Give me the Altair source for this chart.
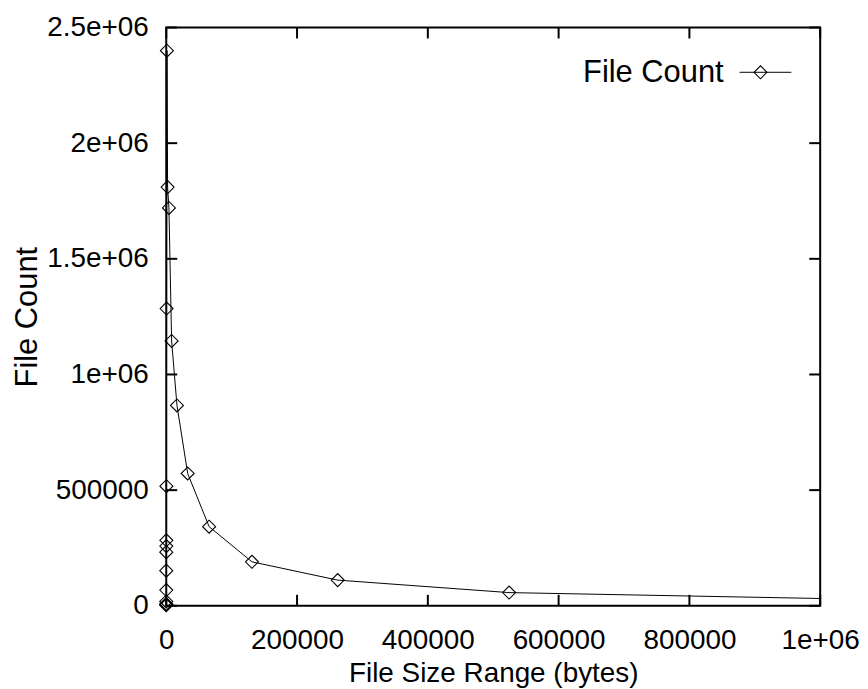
import altair as alt
import pandas as pd

# File size buckets (bytes) and file counts
sizes = [0, 1, 2, 4, 8, 16, 32, 64, 128, 256, 512, 1024, 2048, 4096,
         8192, 16384, 32768, 65536, 131072, 262144, 524288, 1048576]
counts = [8000, 2000, 5000, 19000, 68000, 152000, 232000, 258000, 283000,
          517000, 1285000, 2400000, 1810000, 1720000, 1145000, 866000,
          572000, 342000, 190000, 111000, 57000, 29000]

x_ticks = [0, 200000, 400000, 600000, 800000, 1000000]
x_labels = ["0", "200000", "400000", "600000", "800000", "1e+06"]
y_ticks = [0, 500000, 1000000, 1500000, 2000000, 2500000]
y_labels = ["0", "500000", "1e+06", "1.5e+06", "2e+06", "2.5e+06"]
series_name = ["File Count"]

W, H = 657, 581
FONT = "Liberation Sans"
FS = 28
FS2 = 31
TICK = 11

df = pd.DataFrame({"size": sizes, "count": counts})
xt = pd.DataFrame({"size": x_ticks})
yt = pd.DataFrame({"count": y_ticks})
leg = pd.DataFrame({"label": series_name})


def label_expr(vals, labs):
    parts = [f"datum.value == {v} ? '{l}'" for v, l in zip(vals, labs)]
    return " : ".join(parts) + " : ''"


x_scale = alt.Scale(domain=[0, 1000000], nice=False, zero=False)
y_scale = alt.Scale(domain=[0, 2500000], nice=False, zero=False)

x_axis = alt.Axis(values=x_ticks, labelExpr=label_expr(x_ticks, x_labels),
                  ticks=False, tickSize=0, domain=False, grid=False,
                  labelPadding=43, labelBaseline="alphabetic", labelFlush=False,
                  labelOverlap=False, title="File Size Range (bytes)",
                  titleBaseline="alphabetic", titleY=76)
y_axis = alt.Axis(values=y_ticks, labelExpr=label_expr(y_ticks, y_labels),
                  ticks=False, tickSize=0, domain=False, grid=False,
                  labelPadding=18, labelFlush=False, labelOverlap=False,
                  title="File Count", titleBaseline="alphabetic", titleX=-130,
                  titleFontSize=FS2)

X = alt.X("size:Q", scale=x_scale, axis=x_axis)
Y = alt.Y("count:Q", scale=y_scale, axis=y_axis)

line = alt.Chart(df).mark_line(clip=True, color="black", strokeWidth=1).encode(x=X, y=Y)
pts = alt.Chart(df).transform_filter(alt.datum.size <= 1000000).mark_point(
    shape="diamond", filled=False, color="black",
    size=170, strokeWidth=1.1, opacity=1).encode(x=X, y=Y)

xb = alt.Chart(xt).mark_rule(color="black", strokeWidth=2).encode(
    x=X, y=alt.value(H), y2=alt.value(H - TICK))
xtop = alt.Chart(xt).mark_rule(color="black", strokeWidth=2).encode(
    x=X, y=alt.value(0), y2=alt.value(TICK))
yl = alt.Chart(yt).mark_rule(color="black", strokeWidth=2).encode(
    y=Y, x=alt.value(0), x2=alt.value(TICK))
yr = alt.Chart(yt).mark_rule(color="black", strokeWidth=2).encode(
    y=Y, x=alt.value(W), x2=alt.value(W - TICK))

leg_text = alt.Chart(leg).mark_text(align="right", baseline="middle", font=FONT,
                                    fontSize=FS2, color="black").encode(
    x=alt.value(560), y=alt.value(46), text="label:N")
leg_line = alt.Chart(leg).mark_rule(color="black", strokeWidth=1).encode(
    x=alt.value(576), x2=alt.value(628), y=alt.value(45))
leg_pt = alt.Chart(leg).mark_point(shape="diamond", filled=False, color="black",
                                   size=170, strokeWidth=1.1, opacity=1).encode(
    x=alt.value(597), y=alt.value(45))

chart = alt.layer(line, pts, xb, xtop, yl, yr, leg_text, leg_line, leg_pt).properties(
    width=W, height=H, autosize="none",
    padding={"left": 159, "top": 18, "right": 40, "bottom": 82},
    background="white",
).configure_view(stroke="black", strokeWidth=2).configure_axis(
    labelFont=FONT, labelFontSize=FS, labelColor="black",
    titleFont=FONT, titleFontSize=FS, titleColor="black", titleFontWeight="normal",
)

chart.save("out.html", embed_options={"renderer": "svg", "actions": False})
